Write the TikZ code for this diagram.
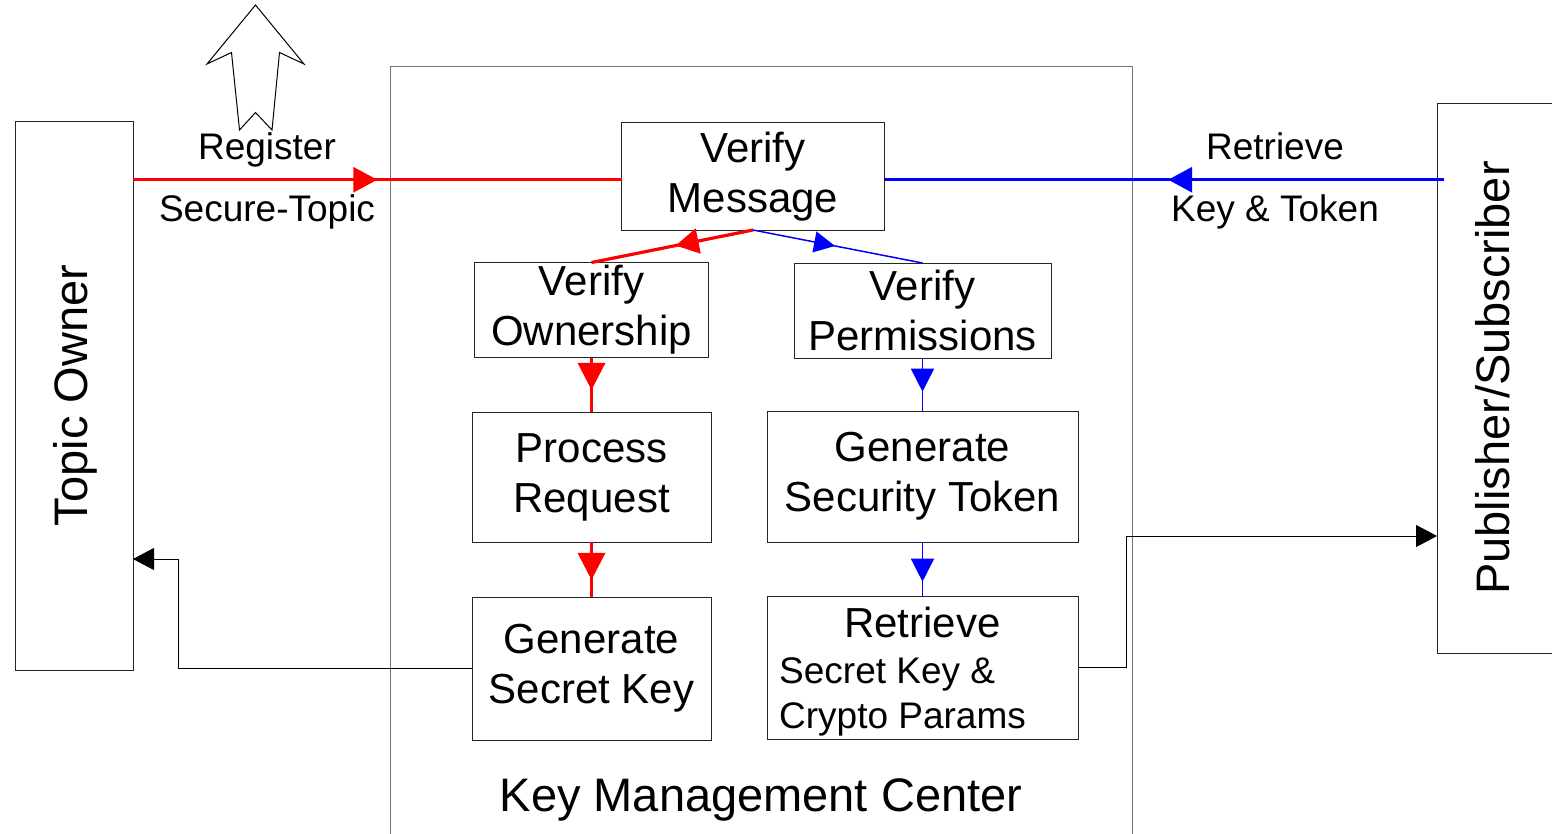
\documentclass[tikz,border=0pt]{standalone}
\usepackage{fontspec}
\setmainfont{Liberation Sans}
\usetikzlibrary{arrows.meta,decorations.markings}

\tikzset{
  box/.style={draw=black!85, line width=1pt, inner sep=0pt, outer sep=0pt,
              align=center, font=\fontsize{42}{50}\selectfont},
  frame/.style={draw=black!55, line width=1pt, inner sep=0pt, outer sep=0pt},
  lblA/.style={inner sep=0pt, font=\fontsize{37}{44}\selectfont, text height=26.5pt, text depth=0pt},
  lblB/.style={inner sep=0pt, font=\fontsize{42}{50}\selectfont, text height=30pt, text depth=0pt},
  lblC/.style={inner sep=0pt, font=\fontsize{47}{56}\selectfont, text height=33.7pt, text depth=0pt},
  midtip/.style args={#1/#2/#3}{
    decoration={markings, mark=at position #1 with {\arrow{Triangle[length=#2pt,width=#3pt]}}},
    postaction={decorate}},
  redln/.style={color=red, line width=3.2pt},
  blueln/.style={color=blue, line width=3.2pt},
  bluethin/.style={color=blue, line width=1.5pt},
  blackln/.style={color=black, line width=1pt, -{Triangle[length=21pt,width=22pt]}},
}

\begin{document}
\begin{tikzpicture}[x=1pt,y=-1pt]
\clip (0,0) rectangle (1552,833);

% outer participants and the centre frame
\node[frame, minimum width=742, minimum height=779] (kmc) at (761,455.5) {};
\node[box, minimum width=118, minimum height=549] (owner) at (74,395.5) {};
\node[box, minimum width=119, minimum height=550] (pubsub) at (1496.5,378) {};

\node[lblC, rotate=90] at (71,395.5) {Topic Owner};
\node[lblC, rotate=90] at (1493,378) {Publisher/Subscriber};
\node[lblC] at (761,795) {Key Management Center};

% processing steps
\node[box, minimum width=263, minimum height=107.5] (vmsg)  at (753,176.25) {Verify\\Message};
\node[box, minimum width=234, minimum height=95]    (vown)  at (591.5,310)  {Verify\\Ownership};
\node[box, minimum width=257, minimum height=95]    (vperm) at (922.5,310.5) {Verify\\Permissions};
\node[box, minimum width=239, minimum height=130]   (proc)  at (591.5,477)  {Process\\Request};
\node[box, minimum width=311, minimum height=131]   (gtok)  at (922.5,476.5) {Generate\\Security Token};
\node[box, minimum width=239, minimum height=143]   (gkey)  at (591.5,668.5) {Generate\\Secret Key};
\node[box, minimum width=311, minimum height=143]   (rkey)  at (922.5,667.5) {};
\node[lblB] at (922.5,622) {Retrieve};
\node[lblA, anchor=west] at (779,670) {Secret Key \&};
\node[lblA, anchor=west] at (779,715) {Crypto Params};

% request lines entering the centre
\coordinate (redR) at ([yshift=-3.5pt]vmsg.west);
\coordinate (blueL) at ([yshift=-3.5pt]vmsg.east);
\coordinate (blueR) at ([xshift=7pt]pubsub.west |- blueL);
\draw[redln, midtip=0.5/24/25] (owner.east |- redR) -- (redR);
\draw[blueln, midtip=0.493/24/25] (blueR) -- (blueL);
\node[lblA] at (267,146) {Register};
\node[lblA] at (267,208) {Secure-Topic};
\node[lblA] at (1275,146) {Retrieve};
\node[lblA] at (1275,208) {Key \& Token};

% internal flow
\draw[redln, midtip=0.479/23/25] (vmsg.south) -- (vown.north);
\draw[bluethin, midtip=0.484/21/21] (vmsg.south) -- (vperm.north);
\draw[redln, midtip=0.596/27/27] (vown.south) -- (proc.north);
\draw[redln, midtip=0.69/27/27] (proc.south) -- (gkey.north);
\draw[bluethin, midtip=0.636/23/23] (vperm.south) -- (gtok.north);
\draw[bluethin, midtip=0.735/23/23] (gtok.south) -- (rkey.north);

% replies back to the participants
\coordinate (elbowL) at (178,559);
\coordinate (elbowR) at (1126,536);
\draw[blackln] (gkey.west) -| (elbowL) -- (owner.east |- elbowL);
\draw[blackln] (rkey.east) -| (elbowR) -- (pubsub.west |- elbowR);

% open block arrow above the owner side
\draw[line width=1pt, line join=miter]
  (255.5,5) -- (304,64) -- (279.5,52.5) -- (272,130) -- (255.5,112.5)
  -- (239.5,130) -- (231.5,52.5) -- (207,64) -- cycle;
\end{tikzpicture}
\end{document}
